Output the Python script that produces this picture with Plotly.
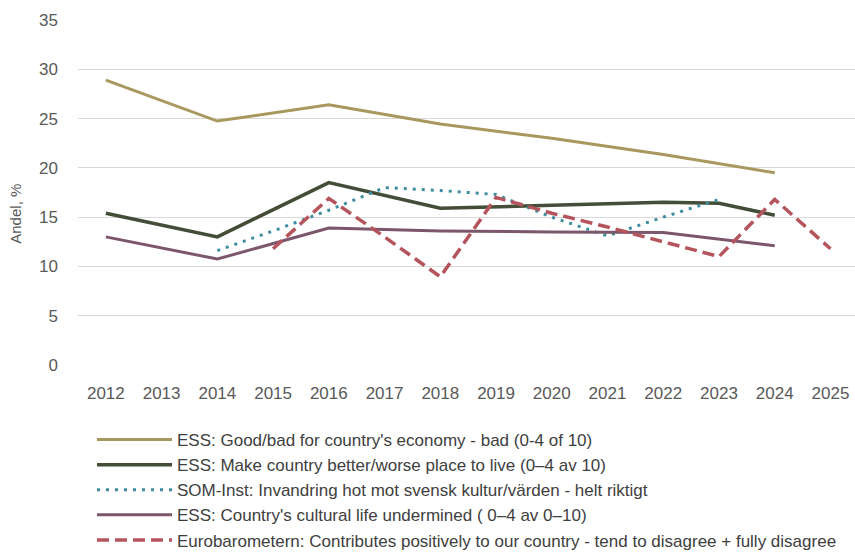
import plotly.graph_objects as go

# ---- data ----
econ_years = [2012, 2014, 2016, 2018, 2020, 2022, 2024]
econ_vals = [28.9, 24.75, 26.4, 24.45, 23.0, 21.35, 19.5]

place_years = [2012, 2014, 2016, 2018, 2020, 2022, 2023, 2024]
place_vals = [15.4, 13.0, 18.5, 15.9, 16.2, 16.5, 16.4, 15.2]

som_years = [2014, 2015, 2016, 2017, 2018, 2019, 2020, 2021, 2022, 2023]
som_vals = [11.6, 13.6, 15.7, 18.0, 17.7, 17.3, 15.0, 13.1, 15.0, 16.8]

cult_years = [2012, 2014, 2016, 2018, 2020, 2022, 2024]
cult_vals = [13.0, 10.75, 13.9, 13.6, 13.5, 13.45, 12.1]

euro_years = [2015, 2016, 2017, 2018, 2019, 2020, 2021, 2022, 2023, 2024, 2025]
euro_vals = [11.8, 16.9, 13.0, 8.95, 17.0, 15.4, 14.0, 12.5, 11.0, 16.8, 11.8]

x_ticks = list(range(2012, 2026))
y_ticks = [0, 5, 10, 15, 20, 25, 30, 35]

names = [
    "ESS: Good/bad for country's economy - bad (0-4 of 10)",
    "ESS: Make country better/worse place to live (0–4 av 10)",
    "SOM-Inst: Invandring hot mot svensk kultur/värden - helt riktigt",
    "ESS: Country's cultural life undermined ( 0–4 av 0–10)",
    "Eurobarometern: Contributes positively to our country - tend to disagree + fully disagree",
]

series = [
    (econ_years, econ_vals, "#A8975F", "solid", 3),
    (place_years, place_vals, "#444D37", "solid", 3.5),
    (som_years, som_vals, "#3D8E9E", "3px,6px", 3),
    (cult_years, cult_vals, "#7C566B", "solid", 3),
    (euro_years, euro_vals, "#B5545D", "12px,6px", 3.5),
]

fig = go.Figure()
for i, (xs, ys, col, dash, w) in enumerate(series):
    fig.add_trace(go.Scatter(
        x=xs, y=ys, mode="lines", name=names[i],
        legendgroup=f"g{i}",
        line=dict(color=col, width=w, dash=dash),
    ))

tick_font = dict(family="Liberation Sans, Arial, sans-serif", size=17, color="#595959")

fig.update_layout(
    width=855, height=558,
    margin=dict(l=78, r=0, t=20, b=193),
    paper_bgcolor="white", plot_bgcolor="white",
    showlegend=True,
    legend=dict(
        x=0.018, y=-0.5594, xanchor="left", yanchor="bottom",
        font=dict(family="Liberation Sans, Arial, sans-serif", size=17, color="#404040"),
        tracegroupgap=0,
        itemwidth=75,
        bgcolor="rgba(0,0,0,0)",
    ),
    xaxis=dict(
        range=[2011.5, 2025.44], tickmode="array", tickvals=x_ticks,
        ticktext=[str(v) for v in x_ticks],
        showgrid=False, zeroline=False, showline=False, ticks="",
        tickfont=tick_font, ticklabelstandoff=16, automargin=False,
    ),
    yaxis=dict(
        range=[0, 35], tickmode="array", tickvals=y_ticks,
        showgrid=True, gridcolor="#D9D9D9", gridwidth=1,
        zeroline=False, showline=False, ticks="",
        tickfont=tick_font, ticklabelstandoff=19, automargin=False,
    ),
    annotations=[dict(
        text="Andel, %", textangle=-90, xref="paper", yref="paper",
        x=-0.08, y=0.438, xanchor="center", yanchor="middle", showarrow=False,
        font=dict(family="Liberation Sans, Arial, sans-serif", size=15, color="#595959"),
    )],
)

fig.write_html("out.html", config={"displayModeBar": False},
               post_script="document.body.style.margin='0px';")
